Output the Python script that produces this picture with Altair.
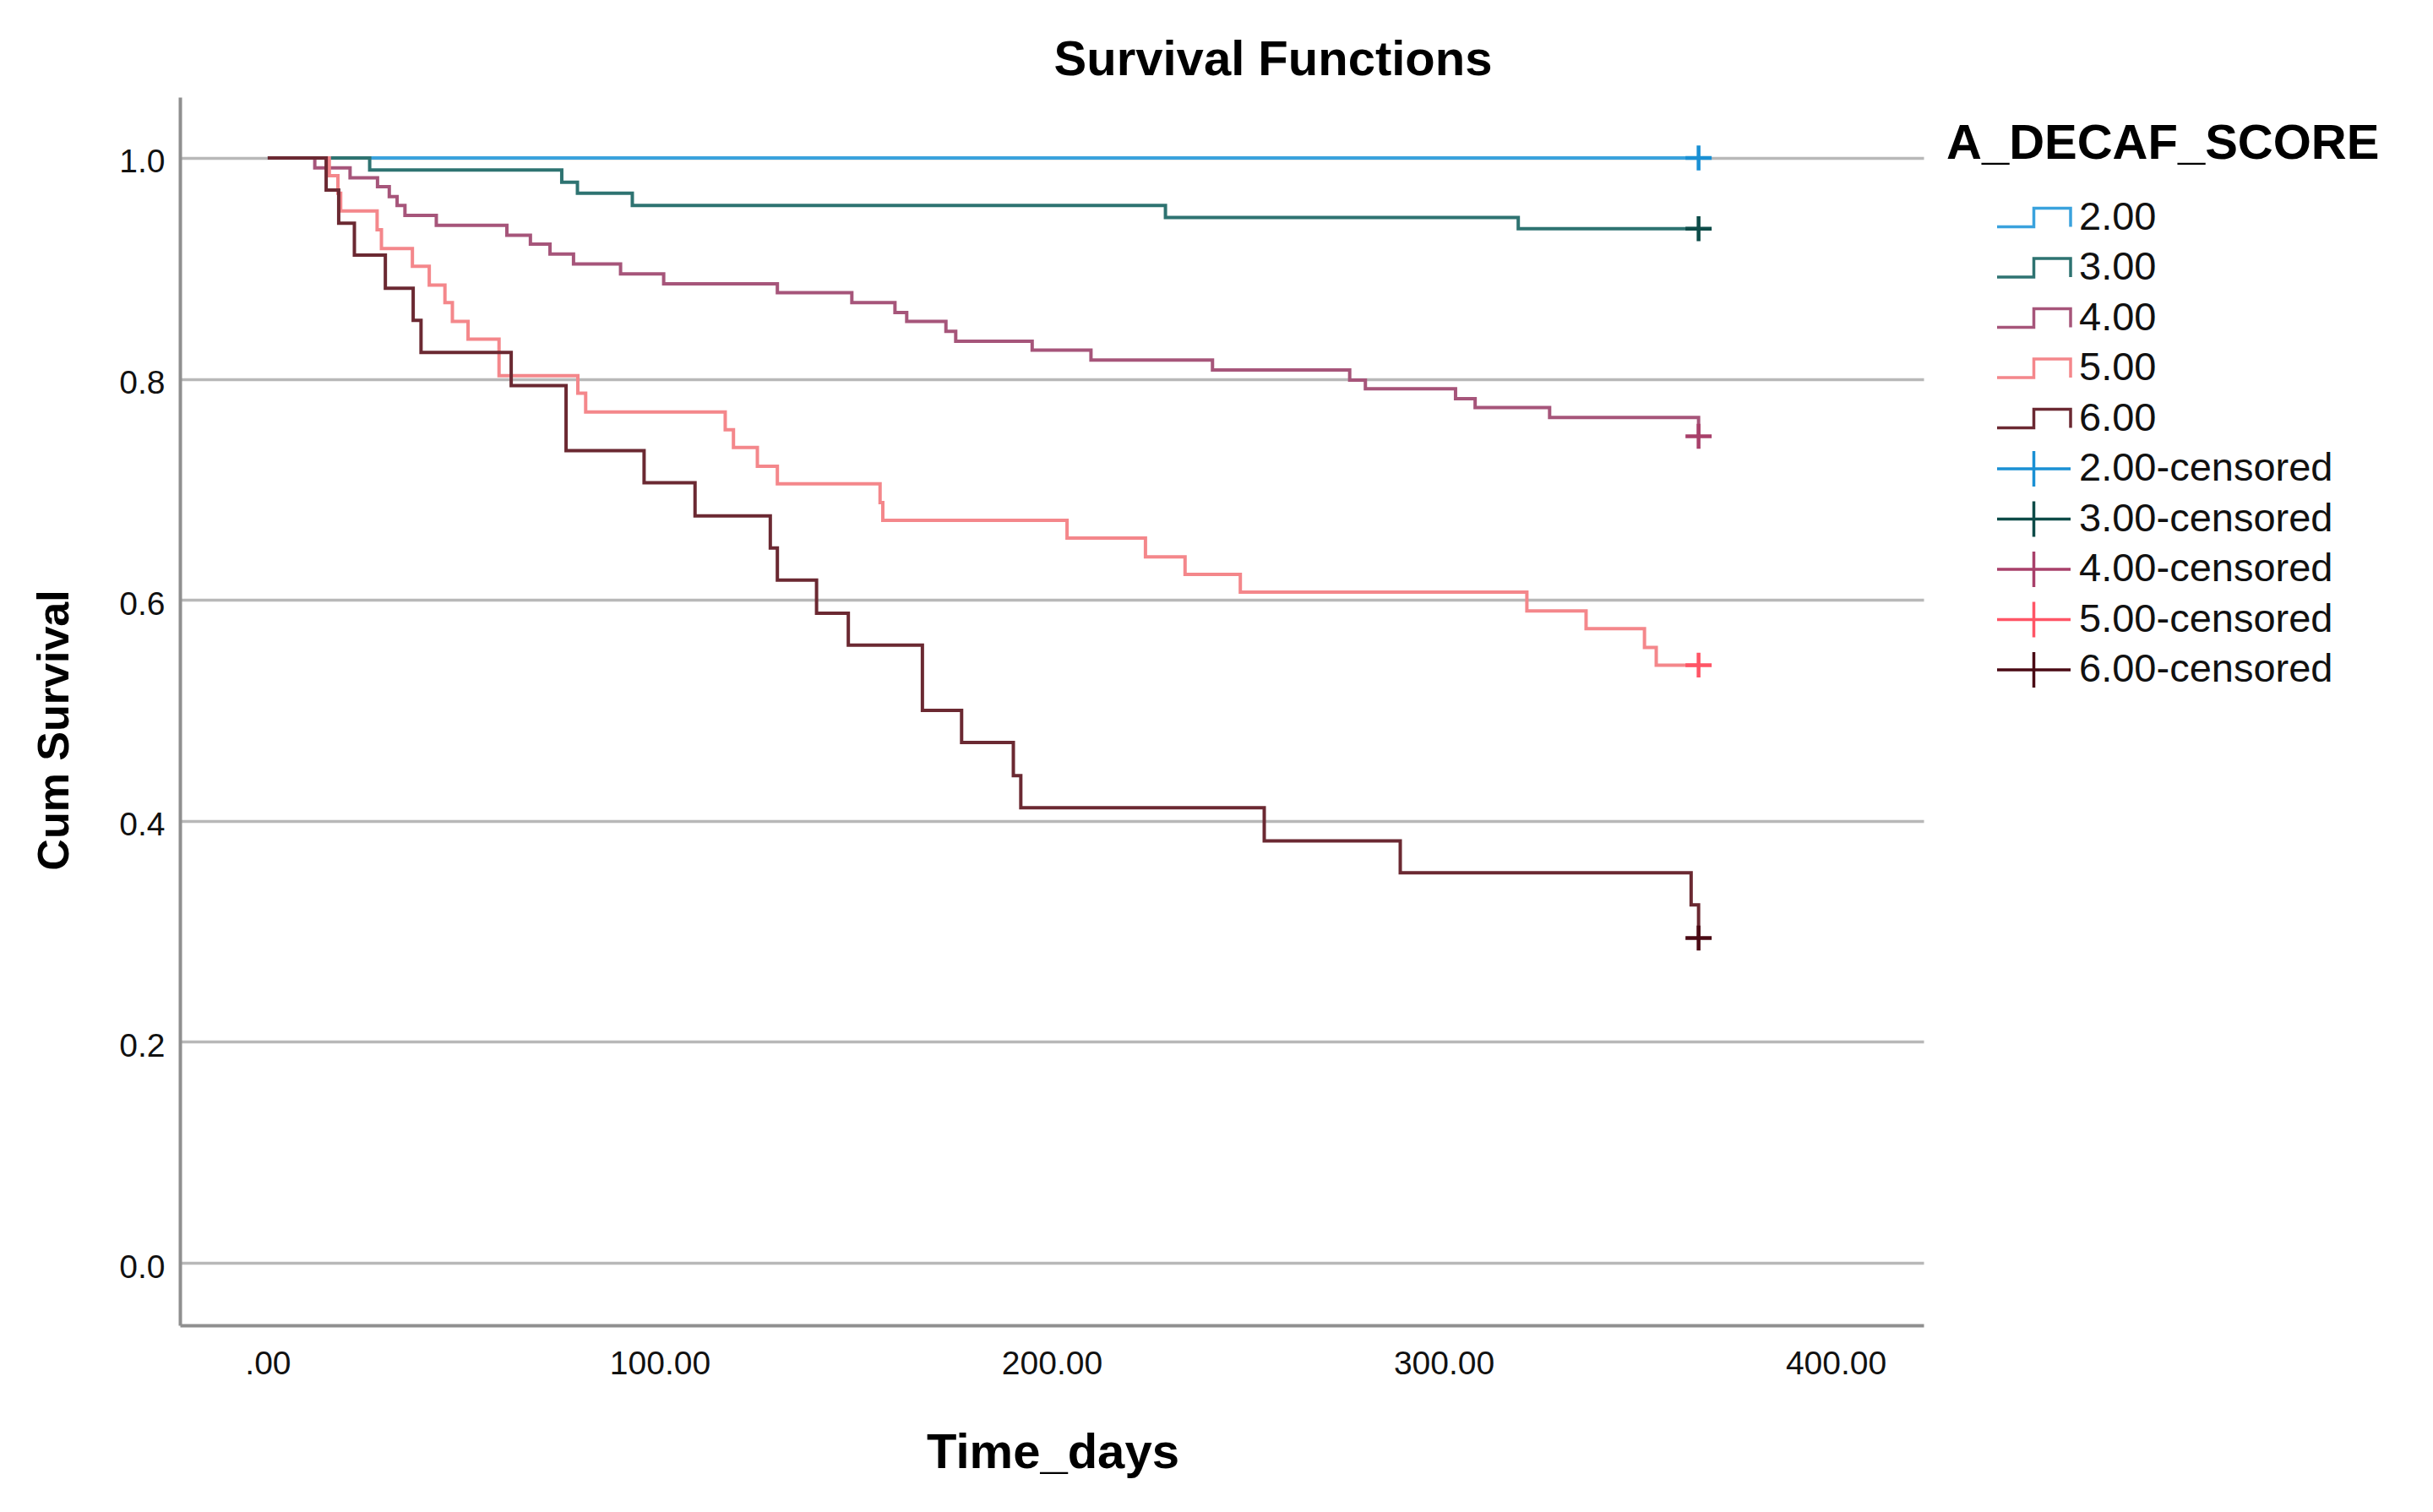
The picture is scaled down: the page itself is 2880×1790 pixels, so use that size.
import altair as alt
import pandas as pd

# ---------------- data ----------------
groups = ["2.00", "3.00", "4.00", "5.00", "6.00"]

t_2 = [0, 365]
s_2 = [1.0, 1.0]

t_3 = [0, 26, 75, 79, 93, 229, 319, 365]
s_3 = [1.0, 0.989, 0.978, 0.968, 0.957, 0.946, 0.936, 0.936]

t_4 = [0, 12, 21, 28, 31, 33, 35, 43, 61, 67, 72, 78, 90, 101, 130, 149, 160, 163,
       173, 175.5, 195, 210, 241, 276, 280, 303, 308, 327, 365, 365]
s_4 = [1.0, 0.991, 0.982, 0.974, 0.965, 0.957, 0.948, 0.939, 0.930, 0.922, 0.913,
       0.904, 0.895, 0.886, 0.878, 0.869, 0.860, 0.852, 0.843, 0.834, 0.826, 0.817,
       0.808, 0.799, 0.791, 0.782, 0.774, 0.765, 0.765, 0.748]

t_5 = [0, 15.7, 17.9, 18.6, 27.9, 29, 36.9, 41.2, 45.2, 47.1, 51.1, 59, 79.1, 81.1,
       116.7, 118.8, 124.9, 130, 156.2, 156.9, 203.9, 223.9, 234, 248.1, 321.2, 336.3,
       351.2, 354.2, 365]
s_5 = [1.0, 0.984, 0.968, 0.952, 0.935, 0.918, 0.902, 0.885, 0.869, 0.852, 0.836,
       0.803, 0.787, 0.770, 0.754, 0.738, 0.721, 0.705, 0.688, 0.672, 0.656, 0.639,
       0.623, 0.607, 0.590, 0.574, 0.557, 0.541, 0.541]

t_6 = [0, 14.9, 18.1, 22.1, 30, 37.1, 39.1, 62.1, 76.1, 96, 109, 128.2, 130, 140,
       148.1, 167, 177, 190.2, 192.1, 254.2, 288.9, 363.1, 365]
s_6 = [1.0, 0.971, 0.941, 0.912, 0.882, 0.853, 0.824, 0.794, 0.735, 0.706, 0.676,
       0.647, 0.618, 0.588, 0.559, 0.500, 0.471, 0.441, 0.412, 0.382, 0.353, 0.324,
       0.294]

censor_labels = [g + "-censored" for g in groups]
censor_time = [365, 365, 365, 365, 365]
censor_surv = [1.0, 0.936, 0.748, 0.541, 0.294]

legend_labels = groups + censor_labels
line_colors = ["#3aa2dd", "#2e7371", "#a6557a", "#f4878b", "#6b2932"]
cens_colors = ["#1a90d4", "#0d4b48", "#a8406a", "#ff5566", "#4a0a14"]

x_ticks = [0, 100, 200, 300, 400]
y_ticks = [0.0, 0.2, 0.4, 0.6, 0.8, 1.0]

# ---------------- tables ----------------
series = {"2.00": (t_2, s_2), "3.00": (t_3, s_3), "4.00": (t_4, s_4),
          "5.00": (t_5, s_5), "6.00": (t_6, s_6)}
rows = []
for g, (ts, ss) in series.items():
    for i, (t, s) in enumerate(zip(ts, ss)):
        rows.append({"label": g, "t": t, "s": s, "i": i})
line_df = pd.DataFrame(rows)
cens_df = pd.DataFrame({"label": censor_labels, "t": censor_time, "s": censor_surv})
legend_df = pd.DataFrame({"label": legend_labels})

FONT = "Liberation Sans"

# step glyph (with invisible move-to points so every legend row has equal height)
step_path = "M0,-1.05M0,1.05M-2.175,0.55H0V-0.55H2.175V0.55"
legend_cross = "M-2.175,0H2.175M0,-1.05V1.05"
plot_cross = "M-1,0H1M0,-0.95V0.95"

x_scale = alt.Scale(domain=[-22.4, 422.4], nice=False, zero=False)
y_scale = alt.Scale(domain=[-0.0565, 1.055], nice=False, zero=False)
color_scale = alt.Scale(domain=legend_labels, range=line_colors + cens_colors)
shape_scale = alt.Scale(domain=legend_labels, range=[step_path] * 5 + [legend_cross] * 5)

x_axis = alt.Axis(
    values=x_ticks, grid=False, ticks=False, tickSize=0,
    labelExpr="datum.value == 0 ? '.00' : format(datum.value, '.2f')",
    labelFont=FONT, labelFontSize=39, labelColor="#111111", labelPadding=26,
    domainColor="#8f8f8f", domainWidth=4,
    titleFont=FONT, titleFontSize=58, titleFontWeight="bold", titleColor="#000000",
    titleX=1033, titleY=168, titleBaseline="alphabetic", titleAlign="center",
)
y_axis = alt.Axis(
    values=y_ticks, format=".1f", grid=True, gridColor="#b8b8b8", gridWidth=3.3,
    ticks=False, tickSize=0,
    labelFont=FONT, labelFontSize=39, labelColor="#111111", labelPadding=18, labelOffset=5,
    domainColor="#8f8f8f", domainWidth=4,
    titleFont=FONT, titleFontSize=52, titleFontWeight="bold", titleColor="#000000",
    titleX=-133, titleY=749, titleAngle=270, titleBaseline="alphabetic", titleAlign="center",
)

lines = alt.Chart(line_df).mark_line(interpolate="step-after", strokeWidth=4).encode(
    x=alt.X("t:Q", scale=x_scale, axis=x_axis, title="Time_days"),
    y=alt.Y("s:Q", scale=y_scale, axis=y_axis, title="Cum Survival"),
    color=alt.Color("label:N", scale=color_scale, title="A_DECAF_SCORE"),
    order=alt.Order("i:Q"),
)

crosses = alt.Chart(cens_df).mark_point(
    shape=plot_cross, size=961, filled=False, strokeWidth=4.5, opacity=1
).encode(
    x=alt.X("t:Q", scale=x_scale),
    y=alt.Y("s:Q", scale=y_scale),
    color=alt.Color("label:N", scale=color_scale, title="A_DECAF_SCORE"),
)

legend_spec = dict(
    orient="none", legendX=2091, legendY=27, padding=0,
    title="A_DECAF_SCORE", titleFont=FONT, titleFontSize=58, titleFontWeight="bold",
    titleColor="#000000", titleLimit=900, titlePadding=34,
    labelFont=FONT, labelFontSize=47, labelColor="#111111", labelLimit=900,
    labelOffset=30, symbolOffset=80, symbolSize=1600, symbolStrokeWidth=3.5,
    symbolOpacity=1, rowPadding=2.5,
)

legend_layer = alt.Chart(legend_df).mark_point(filled=False, strokeWidth=3.5).encode(
    color=alt.Color("label:N", scale=color_scale, legend=alt.Legend(**legend_spec)),
    shape=alt.Shape("label:N", scale=shape_scale, legend=alt.Legend(**legend_spec)),
).transform_filter("false")

chart = alt.layer(lines, crosses, legend_layer).properties(
    width=2064, height=1454,
    autosize=alt.AutoSizeParams(type="none"),
    padding={"left": 205, "top": 107, "right": 595, "bottom": 213},
    title=alt.TitleParams(
        "Survival Functions", font=FONT, fontSize=58, fontWeight="bold", color="#000000",
        anchor="middle", frame="group", dx=262, offset=14,
    ),
    background="white",
).configure_view(stroke="transparent")

chart.save("out.html", embed_options={"renderer": "svg", "actions": False})
